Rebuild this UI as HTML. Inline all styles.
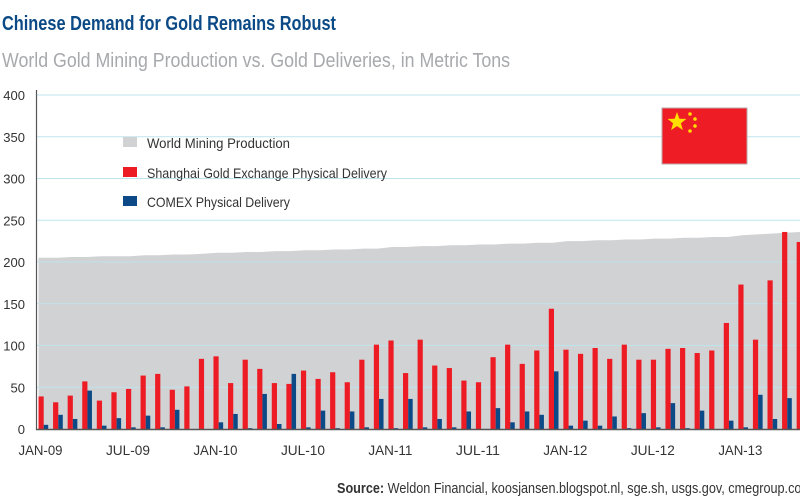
<!DOCTYPE html>
<html><head><meta charset="utf-8">
<style>
html,body{margin:0;padding:0;background:#fff;}
body{width:800px;height:500px;overflow:hidden;font-family:"Liberation Sans",sans-serif;}
svg{display:block}
</style></head>
<body>
<svg id="chart" width="800" height="500" viewBox="0 0 800 500" xmlns="http://www.w3.org/2000/svg">
<text x="2" y="30" font-size="20" font-weight="bold" fill="#0b4a86" textLength="334" lengthAdjust="spacingAndGlyphs">Chinese Demand for Gold Remains Robust</text>
<text x="2" y="67" font-size="20" fill="#a7a9ac" textLength="508" lengthAdjust="spacingAndGlyphs">World Gold Mining Production vs. Gold Deliveries, in Metric Tons</text>
<g id="plot"></g>
<g>
<rect x="123" y="137" width="14" height="10" fill="#d1d2d4"/>
<text x="147" y="148" font-size="14" fill="#333" textLength="143" lengthAdjust="spacingAndGlyphs">World Mining Production</text>
<rect x="123" y="167" width="14" height="10" fill="#ed1c24"/>
<text x="147" y="178" font-size="14" fill="#333" textLength="240" lengthAdjust="spacingAndGlyphs">Shanghai Gold Exchange Physical Delivery</text>
<rect x="123" y="196" width="14" height="10" fill="#0b4a86"/>
<text x="147" y="207" font-size="14" fill="#333" textLength="143" lengthAdjust="spacingAndGlyphs">COMEX Physical Delivery</text>
</g>
<g>
<rect x="662" y="108" width="85" height="56" fill="#ee1c25" stroke="#b9a9aa" stroke-width="1"/>
<polygon fill="#ffde00" points="677,112 679.4,118.7 686.5,118.9 680.9,123.3 682.9,130.1 677,126.1 671.1,130.1 673.1,123.3 667.5,118.9 674.6,118.7"/>
<circle cx="690" cy="114" r="1.8" fill="#ffde00"/>
<circle cx="695" cy="119" r="1.8" fill="#ffde00"/>
<circle cx="695" cy="126" r="1.8" fill="#ffde00"/>
<circle cx="690" cy="131" r="1.8" fill="#ffde00"/>
</g>
<text x="337" y="493" font-size="15" fill="#333" textLength="475" lengthAdjust="spacingAndGlyphs"><tspan font-weight="bold">Source:</tspan> Weldon Financial, koosjansen.blogspot.nl, sge.sh, usgs.gov, cmegroup.com</text>
</svg>
<script>
const months = ["JAN-09","FEB-09","MAR-09","APR-09","MAY-09","JUN-09","JUL-09","AUG-09","SEP-09","OCT-09","NOV-09","DEC-09",
"JAN-10","FEB-10","MAR-10","APR-10","MAY-10","JUN-10","JUL-10","AUG-10","SEP-10","OCT-10","NOV-10","DEC-10",
"JAN-11","FEB-11","MAR-11","APR-11","MAY-11","JUN-11","JUL-11","AUG-11","SEP-11","OCT-11","NOV-11","DEC-11",
"JAN-12","FEB-12","MAR-12","APR-12","MAY-12","JUN-12","JUL-12","AUG-12","SEP-12","OCT-12","NOV-12","DEC-12",
"JAN-13","FEB-13","MAR-13","APR-13","MAY-13"];
const sgeValues = [39,32,40,57,34,44,48,64,66,47,51,84,87,55,83,72,55,
54,70,60,68,56,83,101,106,67,107,76,73,58,56,86,101,78,94,
144,95,90,97,84,101,83,83,96,97,91,94,127,173,107,178,236,224];
const comexValues = [5,17,12,46,4,13,2,16,2,23,0,0,8,18,1,42,6,
66,2,22,1,21,2,36,1,36,2,12,2,21,0,25,8,21,17,
69,4,10,4,15,1,19,2,31,1,22,0,10,2,41,12,37,0];
const miningValues = [205,205,206,206,207,207,207,208,208,209,209,210,
211,211,212,212,213,213,214,214,215,215,216,216,
218,218,219,219,220,220,221,221,222,222,223,223,
225,225,226,226,227,227,228,228,229,229,230,230,
232,233,234,235,236];
const yTicks = [0,50,100,150,200,250,300,350,400];
const xLabels = ["JAN-09","JUL-09","JAN-10","JUL-10","JAN-11","JUL-11","JAN-12","JUL-12","JAN-13"];

const NS="http://www.w3.org/2000/svg";
const plot=document.getElementById('plot');
const x0=38.5, step=14.58, y0=429, yMax=95;
function yScale(v){return y0-(v/400)*(y0-yMax);}
function xScale(i){return x0+i*step;}
function mk(tag,attrs){const e=document.createElementNS(NS,tag);for(const k in attrs)e.setAttribute(k,attrs[k]);plot.appendChild(e);return e;}

let d="M"+x0+","+y0;
miningValues.forEach((v,i)=>{d+=" L"+(i==0?x0:xScale(i)+4)+","+yScale(v).toFixed(1);});
d+=" L800,"+yScale(miningValues[miningValues.length-1]).toFixed(1)+" L800,"+y0+" Z";
const area=mk('path',{d:d,fill:'#d1d2d4'});



yTicks.forEach(t=>{
 if(t>0){const g=mk('line',{x1:37,x2:800,y1:yScale(t),y2:yScale(t),stroke:'#bfe3ec','stroke-width':1});
 
 }
 const lb=mk('text',{x:25,y:yScale(t)+5,'font-size':13,fill:'#333','text-anchor':'end'});
 lb.textContent=t;
 
 
});

months.forEach((m,i)=>{
 const xr=xScale(i);
 const r=mk('rect',{x:xr,y:yScale(sgeValues[i]),width:5.2,height:y0-yScale(sgeValues[i]),fill:'#ed1c24'});
 
 
 const b=mk('rect',{x:xr+5.2,y:yScale(comexValues[i]),width:4.5,height:y0-yScale(comexValues[i]),fill:'#0b4a86'});
 
 
});

const ya=mk('line',{x1:36.5,x2:36.5,y1:90,y2:y0+1,stroke:'#555','stroke-width':1.2});


const xa=mk('line',{x1:36,x2:800,y1:y0+0.5,y2:y0+0.5,stroke:'#555','stroke-width':1.5});



xLabels.forEach(l=>{
 const i=months.indexOf(l);
 const t=mk('text',{x:xScale(i)+2,y:455,'font-size':14,fill:'#333','text-anchor':'middle',textLength:44,lengthAdjust:'spacingAndGlyphs'});
 t.textContent=l;
 
 
});
</script>
</body></html>
